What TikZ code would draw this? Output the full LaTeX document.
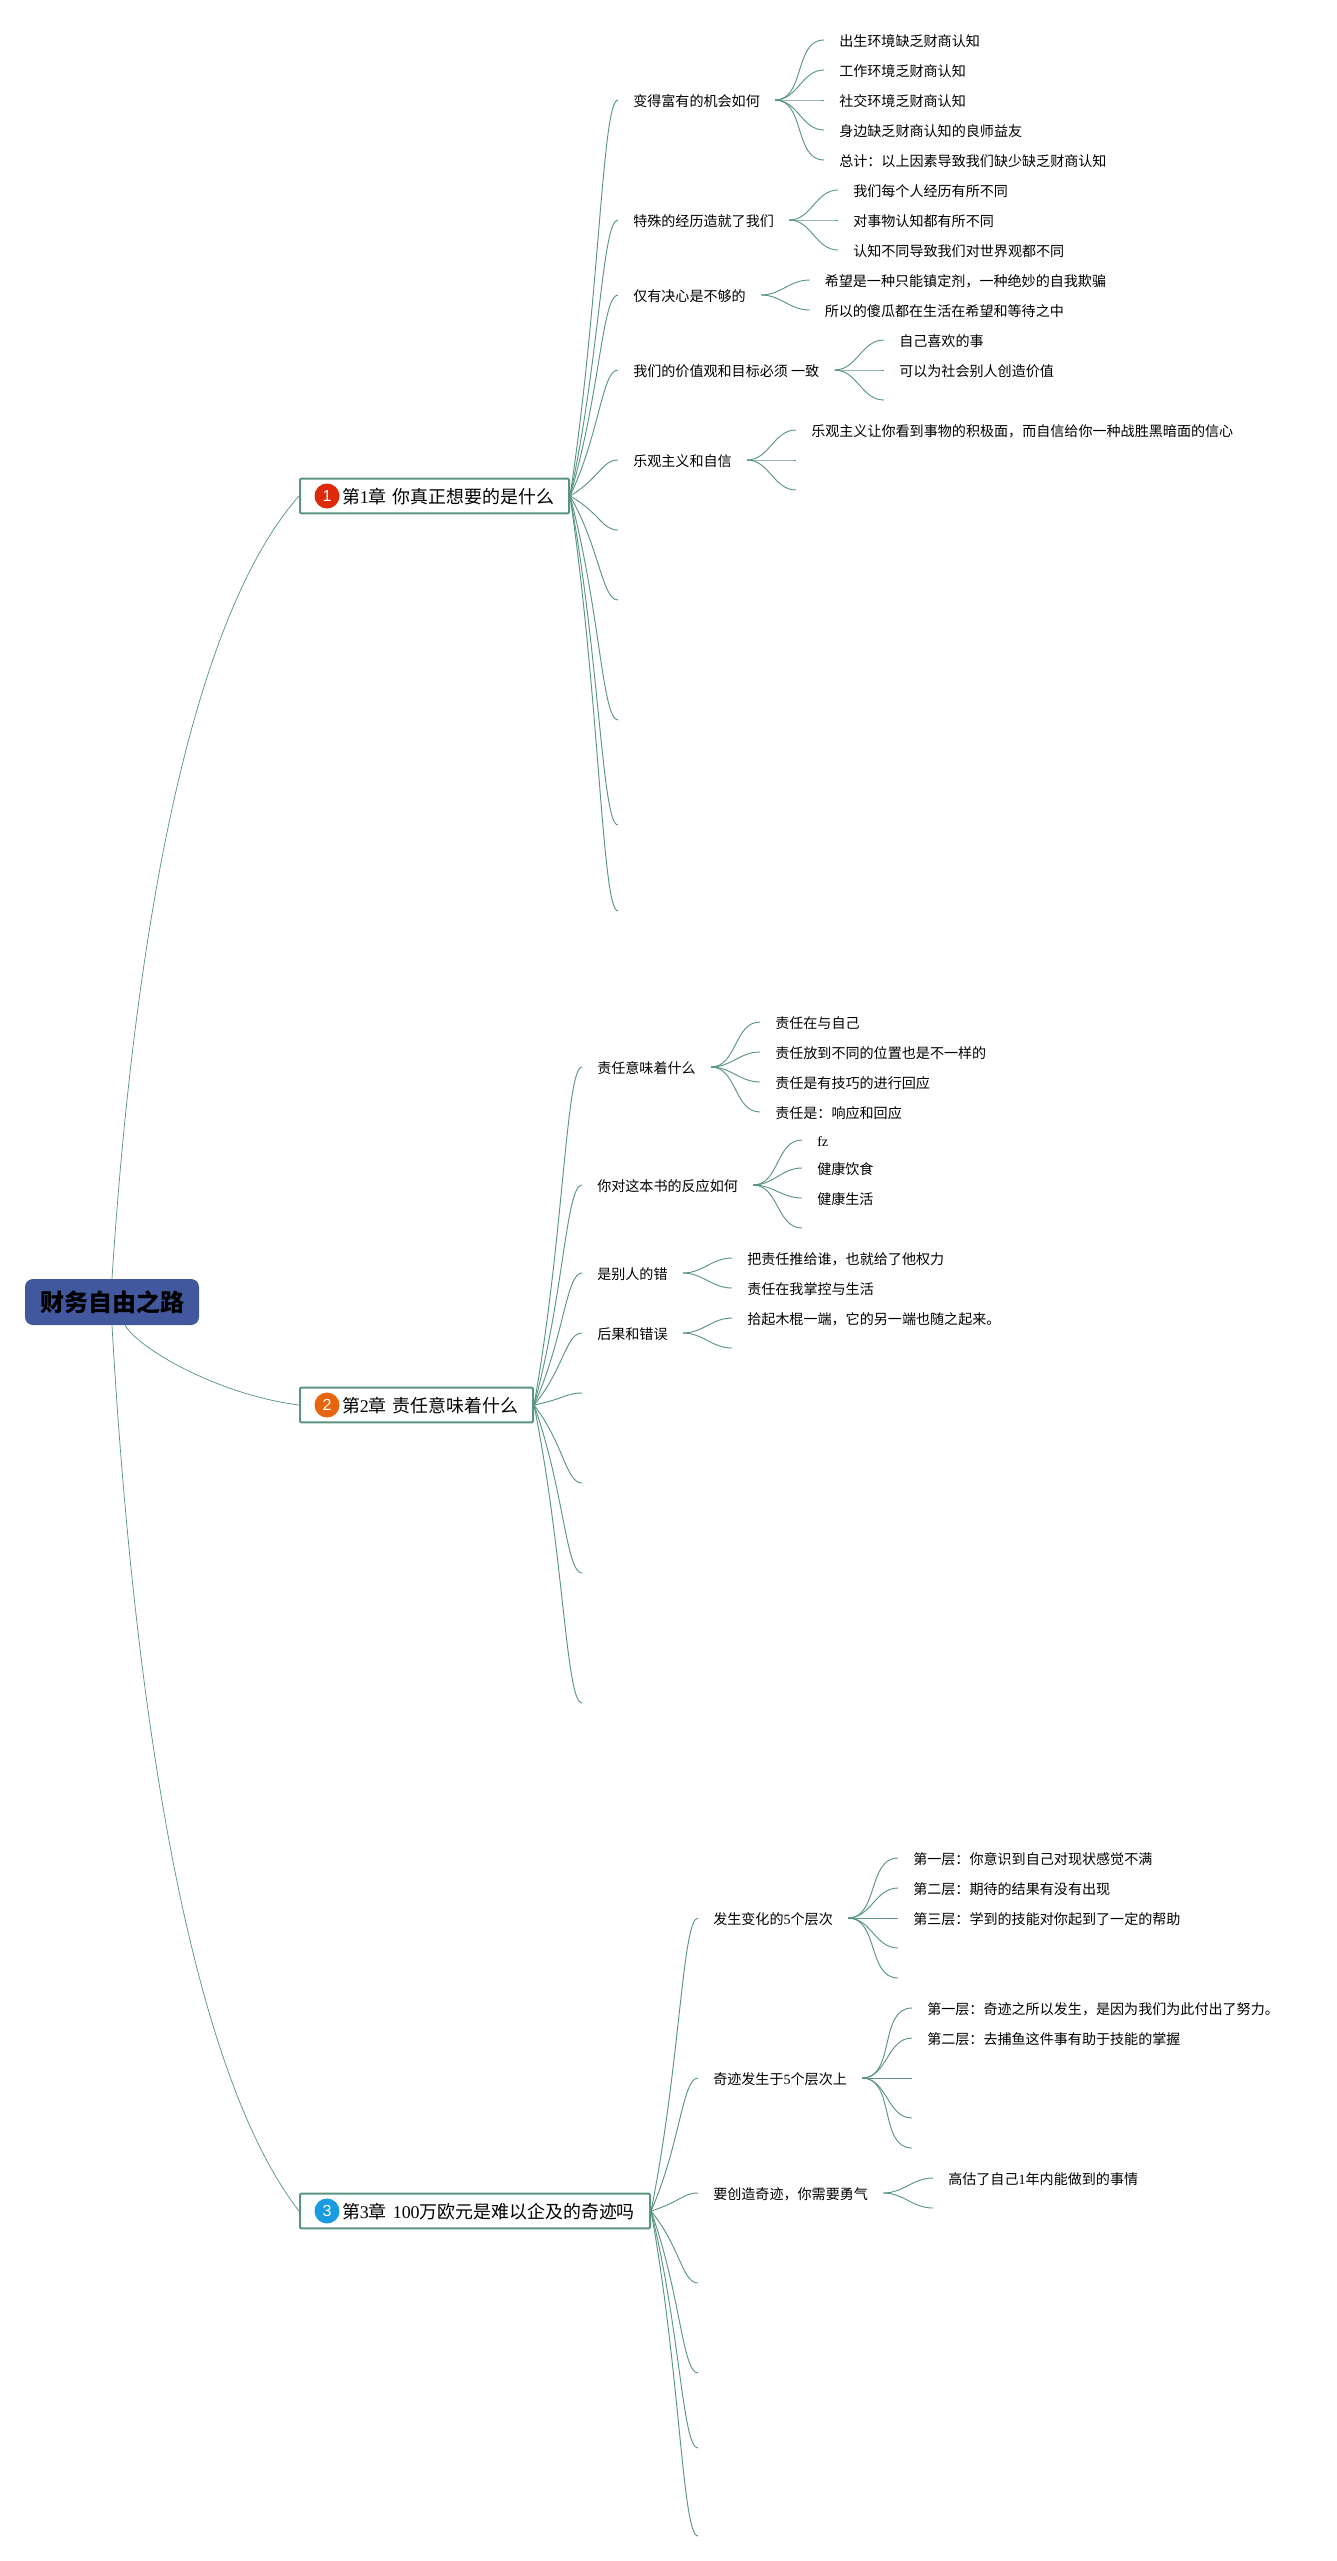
\documentclass[tikz,border=0pt]{standalone}
\usepackage{fontspec}
\setmainfont{Liberation Serif}
\newfontfamily\cjk{Noto Sans CJK SC}
\newfontfamily\marksans{Liberation Sans}
\usetikzlibrary{calc}
\definecolor{linegreen}{HTML}{5A9482}
\definecolor{rootblue}{HTML}{41589F}
\definecolor{markred}{HTML}{DD2A0A}
\definecolor{markorange}{HTML}{E8650F}
\definecolor{markblue}{HTML}{1B9BDF}
\newcommand{\lat}[1]{{\rmfamily #1}}
\newcommand{\chaptext}[1]{\hspace*{18.75pt}\raisebox{0pt}[11.8pt][0pt]{\makebox[0pt][l]{#1}}}
\tikzset{branch/.style={line width=0.7pt,linegreen,to path={let \p1=(\tikztostart),\p2=(\tikztotarget) in
  .. controls ({\x1+0.625*(\x2-\x1)},{0.5*(\y1+\y2)}) and ({\x2-0.333*(\x2-\x1)},\y2) .. (\tikztotarget)}}}
\tikzset{fan/.style={line width=0.7pt,linegreen,out=0,in=180}}
\tikzset{rootline/.style={line width=0.55pt,linegreen}}

\begin{document}
\begin{tikzpicture}[x=0.75pt,y=-0.75pt,font=\cjk]

\tikzstyle{item}=[anchor=west,inner xsep=11.25pt,inner ysep=0pt,text height=10pt,text depth=0.6pt,font=\cjk\fontsize{10.55pt}{12pt}\selectfont]
\tikzstyle{chapbox}=[anchor=west,draw=linegreen,line width=1.5pt,rounded corners=0.8pt,fill=white,minimum height=26pt,inner xsep=12.75pt,inner ysep=0pt,align=left,font=\cjk\fontsize{13.45pt}{16pt}\selectfont]
\tikzstyle{chapmark}=[circle,inner sep=0pt,minimum size=18.75pt,text=white,font=\marksans\fontsize{12pt}{14pt}\selectfont]

\path[use as bounding box] (0,0) rectangle (1337,2561);

\node[fill=rootblue,rounded corners=6pt,minimum width=130.5pt,minimum height=34.5pt,inner sep=0pt,font=\cjk\bfseries\fontsize{18pt}{20pt}\selectfont] (root) at (112,1302) {财务自由之路};

\node[chapbox,text width=176.25pt] (c1) at (299,496) {\chaptext{第\lat{1}章 你真正想要的是什么}};
\node[chapbox,text width=149.25pt] (c2) at (299,1405) {\chaptext{第\lat{2}章 责任意味着什么}};
\node[chapbox,text width=237pt] (c3) at (299,2211) {\chaptext{第\lat{3}章 \lat{100}万欧元是难以企及的奇迹吗}};

\node[chapmark,fill=markred] (m1) at ([xshift=21pt]c1.west) {1};
\node[chapmark,fill=markorange] (m2) at ([xshift=21pt]c2.west) {2};
\node[chapmark,fill=markblue] (m3) at ([xshift=21pt]c3.west) {3};

\draw[rootline] (root.north) .. controls (128,1030) and (172,640) .. (c1.west);
\draw[rootline] ([xshift=9.75pt]root.south) .. controls (140,1350) and (220,1395) .. (c2.west);
\draw[rootline] (root.south) .. controls (128,1606) and (172,2047) .. (c3.west);

\node[item] (c1a) at (618,100) {变得富有的机会如何};
\node[item] (c1b) at (618,220) {特殊的经历造就了我们};
\node[item] (c1c) at (618,295) {仅有决心是不够的};
\node[item] (c1d) at (618,370) {我们的价值观和目标必须 一致};
\node[item] (c1e) at (618,460) {乐观主义和自信};
\foreach \nm in {c1a,c1b,c1c,c1d,c1e}
  \draw[branch] (c1.east) to (\nm.west);
\foreach \nm/\ypos in {c1f/530,c1g/600,c1h/720,c1i/825,c1j/911} {
  \coordinate (\nm) at (618,\ypos);
  \draw[branch] (c1.east) to (\nm);
}

\foreach \nm/\ypos/\txt in {a1/40/出生环境缺乏财商认知,a2/70/工作环境乏财商认知,a3/100/社交环境乏财商认知,a4/130/身边缺乏财商认知的良师益友,a5/160/总计：以上因素导致我们缺少缺乏财商认知} {
  \node[item] (\nm) at (824,\ypos) {\txt};
  \draw[fan] (c1a.east) to (\nm.west);
}
\foreach \nm/\ypos/\txt in {b1/190/我们每个人经历有所不同,b2/220/对事物认知都有所不同,b3/250/认知不同导致我们对世界观都不同} {
  \node[item] (\nm) at (838,\ypos) {\txt};
  \draw[fan] (c1b.east) to (\nm.west);
}
\foreach \nm/\ypos/\txt in {d1/280/希望是一种只能镇定剂，一种绝妙的自我欺骗,d2/310/所以的傻瓜都在生活在希望和等待之中} {
  \node[item] (\nm) at (809.5,\ypos) {\txt};
  \draw[fan] (c1c.east) to (\nm.west);
}
\foreach \nm/\ypos/\txt in {e1/340/自己喜欢的事,e2/370/可以为社会别人创造价值,e3/400/{}} {
  \node[item] (\nm) at (884,\ypos) {\txt};
  \draw[fan] (c1d.east) to (\nm.west);
}
\foreach \nm/\ypos/\txt in {f1/430/乐观主义让你看到事物的积极面，而自信给你一种战胜黑暗面的信心,f2/460/{},f3/490/{}} {
  \node[item] (\nm) at (796,\ypos) {\txt};
  \draw[fan] (c1e.east) to (\nm.west);
}

\node[item] (c2a) at (582,1067) {责任意味着什么};
\node[item] (c2b) at (582,1185) {你对这本书的反应如何};
\node[item] (c2c) at (582,1273) {是别人的错};
\node[item] (c2d) at (582,1333) {后果和错误};
\foreach \nm in {c2a,c2b,c2c,c2d}
  \draw[branch] (c2.east) to (\nm.west);
\foreach \nm/\ypos in {c2e/1393,c2f/1483,c2g/1573,c2h/1703} {
  \coordinate (\nm) at (582,\ypos);
  \draw[branch] (c2.east) to (\nm);
}

\foreach \nm/\ypos/\txt in {g1/1022/责任在与自己,g2/1052/责任放到不同的位置也是不一样的,g3/1082/责任是有技巧的进行回应,g4/1112/责任是：响应和回应} {
  \node[item] (\nm) at (760,\ypos) {\txt};
  \draw[fan] (c2a.east) to (\nm.west);
}
\foreach \nm/\ypos/\txt in {h1/1140/\lat{fz},h2/1168/健康饮食,h3/1198/健康生活,h4/1228/{}} {
  \node[item] (\nm) at (802,\ypos) {\txt};
  \draw[fan] (c2b.east) to (\nm.west);
}
\foreach \nm/\ypos/\txt in {i1/1258/把责任推给谁，也就给了他权力,i2/1288/责任在我掌控与生活} {
  \node[item] (\nm) at (732,\ypos) {\txt};
  \draw[fan] (c2c.east) to (\nm.west);
}
\foreach \nm/\ypos/\txt in {j1/1318/拾起木棍一端，它的另一端也随之起来。,j2/1348/{}} {
  \node[item] (\nm) at (732,\ypos) {\txt};
  \draw[fan] (c2d.east) to (\nm.west);
}

\node[item] (c3a) at (698,1918) {发生变化的\lat{5}个层次};
\node[item] (c3b) at (698,2078) {奇迹发生于\lat{5}个层次上};
\node[item] (c3c) at (698,2193) {要创造奇迹，你需要勇气};
\foreach \nm in {c3a,c3b,c3c}
  \draw[branch] (c3.east) to (\nm.west);
\foreach \nm/\ypos in {c3d/2283,c3e/2373,c3f/2448,c3g/2536} {
  \coordinate (\nm) at (698,\ypos);
  \draw[branch] (c3.east) to (\nm);
}

\foreach \nm/\ypos/\txt in {k1/1858/第一层：你意识到自己对现状感觉不满,k2/1888/第二层：期待的结果有没有出现,k3/1918/第三层：学到的技能对你起到了一定的帮助,k4/1948/{},k5/1978/{}} {
  \node[item] (\nm) at (898,\ypos) {\txt};
  \draw[fan] (c3a.east) to (\nm.west);
}
\foreach \nm/\ypos/\txt in {l1/2008/第一层：奇迹之所以发生，是因为我们为此付出了努力。,l2/2038/第二层：去捕鱼这件事有助于技能的掌握,l3/2078/{},l4/2118/{},l5/2148/{}} {
  \node[item] (\nm) at (912,\ypos) {\txt};
  \draw[fan] (c3b.east) to (\nm.west);
}
\foreach \nm/\ypos/\txt in {o1/2178/高估了自己\lat{1}年内能做到的事情,o2/2208/{}} {
  \node[item] (\nm) at (933,\ypos) {\txt};
  \draw[fan] (c3c.east) to (\nm.west);
}

\end{tikzpicture}
\end{document}
